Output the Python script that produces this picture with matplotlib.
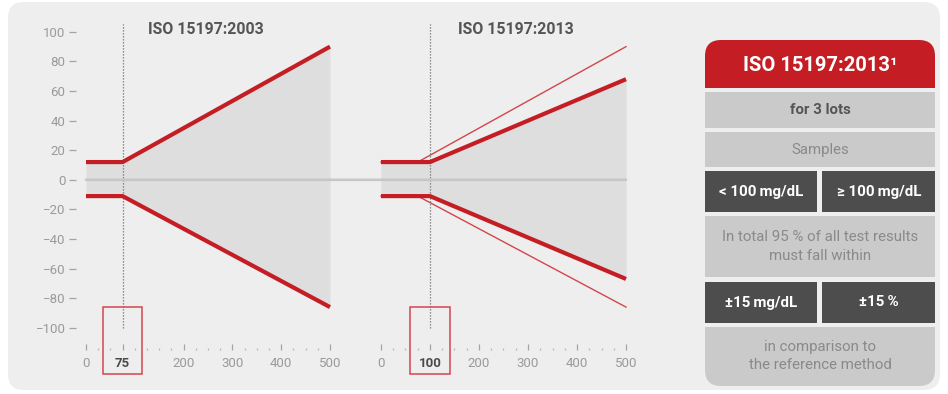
import matplotlib.pyplot as plt
from matplotlib.patches import Rectangle, FancyBboxPatch, ConnectionPatch

plt.rcParams['font.family'] = ['Roboto', 'DejaVu Sans']

# accuracy limits (deviation from reference, mg/dL or %) over glucose concentration
glucose_2003 = [0, 75, 500]
upper_2003 = [12, 12, 90]
lower_2003 = [-11, -11, -86]
cutoff_2003 = 75

glucose_2013 = [0, 100, 500]
upper_2013 = [12, 12, 68]
lower_2013 = [-11, -11, -67]
cutoff_2013 = 100

y_ticks = [-100, -80, -60, -40, -20, 0, 20, 40, 60, 80, 100]
x_ticks_2003 = [0, 75, 200, 300, 400, 500]
x_ticks_2013 = [0, 100, 200, 300, 400, 500]
minor_step = 25

titles = ['ISO 15197:2003', 'ISO 15197:2013']

table_header = 'ISO 15197:2013\u00b9'
table_lots = 'for 3 lots'
table_samples = 'Samples'
table_ranges = ['< 100\u2009mg/dL', '\u2265 100\u2009mg/dL']
table_rule = 'In total 95 % of all test results\nmust fall within'
table_limits = ['\u00b115\u2009mg/dL', '\u00b115\u2009%']
table_footer = 'in comparison to\nthe reference method'

RED = '#c41e24'
THIN_RED = '#d2464b'
SHADE = '#dedede'
PANEL = '#eeeeee'
LIGHT_CELL = '#cacaca'
DARK_CELL = '#4d4d4d'
TICK_GREY = '#a3a3a3'

W, H = 948, 394
fig = plt.figure(figsize=(W / 100, H / 100), dpi=100)
fig.patch.set_facecolor('white')

# background canvas in pixel units: rounded panel + spec table
bg = fig.add_axes([0, 0, 1, 1], zorder=-1)
bg.set_xlim(0, W)
bg.set_ylim(H, 0)
bg.axis('off')
bg.add_patch(FancyBboxPatch((8, 2), 932, 388, boxstyle='round,pad=0,rounding_size=16',
                            facecolor=PANEL, edgecolor='none'))


def px_axes(left, right, top=20, bottom=350):
    return fig.add_axes([left / W, (H - bottom) / H, (right - left) / W, (bottom - top) / H])


ax1 = px_axes(76, 336)
ax2 = px_axes(371, 631)
ax1.set_xlim(-20.5, 512.3)
ax2.set_xlim(-20.4, 510.2)


def draw_panel(ax, x, up, lo, cutoff, xticks, title, title_x):
    ax.set_facecolor('none')
    ax.set_ylim(-115, 108)
    for s in ax.spines.values():
        s.set_visible(False)
    ax.fill_between(x, lo, up, color=SHADE, lw=0, zorder=1)
    ax.plot(x, up, color=RED, lw=3.0, solid_capstyle='butt', zorder=4)
    ax.plot(x, lo, color=RED, lw=3.0, solid_capstyle='butt', zorder=4)
    ax.vlines(cutoff, -100, 105, color='#6e6e6e', lw=0.9, linestyles=(0, (1, 1.4)), zorder=3)

    # x axis: ticks pointing up, every 25 units
    ax.set_xticks(xticks)
    ax.set_xticks(range(0, 501, minor_step), minor=True)
    ax.tick_params(axis='x', which='major', direction='in', length=4, width=0.9,
                   color=TICK_GREY, pad=5, labelsize=9.5, labelcolor='#9a9a9a')
    ax.tick_params(axis='x', which='minor', direction='in', length=1.8, width=0.9,
                   color='#b5b5b5')
    for lab in ax.get_xticklabels():
        if lab.get_text() == str(cutoff):
            lab.set_fontweight('bold')
            lab.set_color('#4a4a4a')

    # red frame around the cut-off label
    ax.add_patch(Rectangle((cutoff - 40, -131), 80, 45, fill=False, edgecolor='#d2474f',
                           lw=1.1, clip_on=False, zorder=5))
    ax.text(title_x, 0.97, title, transform=ax.transAxes, fontsize=11.4, fontweight='bold',
            color='#555555', va='center', ha='left')


draw_panel(ax1, glucose_2003, upper_2003, lower_2003, cutoff_2003, x_ticks_2003, titles[0], 0.277)
# previous limits shown as thin lines behind the 2013 limits
ax2.plot(glucose_2003, upper_2003, color=THIN_RED, lw=1.0, zorder=2)
ax2.plot(glucose_2003, lower_2003, color=THIN_RED, lw=1.0, zorder=2)
draw_panel(ax2, glucose_2013, upper_2013, lower_2013, cutoff_2013, x_ticks_2013, titles[1], 0.335)

ax1.set_yticks(y_ticks)
ax1.tick_params(axis='y', direction='out', length=5, width=0.9, color=TICK_GREY,
                pad=2.5, labelsize=9.5, labelcolor='#9a9a9a')
ax2.tick_params(axis='y', left=False, labelleft=False)

# zero line running through both panels
zero = ConnectionPatch(xyA=(0, 0), coordsA=ax1.transData, xyB=(500, 0), coordsB=ax2.transData,
                       color='#c6c6c6', lw=1.8)
fig.add_artist(zero)

# ---- requirements table ----
tx0, tx1, tmid = 705, 935, 820
gap = 2.5

bg.add_patch(FancyBboxPatch((tx0, 40), tx1 - tx0, 48, boxstyle='round,pad=0,rounding_size=16',
                            facecolor=RED, edgecolor='none'))
bg.add_patch(Rectangle((tx0, 64), tx1 - tx0, 24, facecolor=RED, edgecolor='none'))
bg.text((tx0 + tx1) / 2, 65, table_header, ha='center', va='center', color='white',
        fontsize=14.5, fontweight='bold')


def full_row(top, bottom, text, color, weight='normal', size=10.8):
    bg.add_patch(Rectangle((tx0, top), tx1 - tx0, bottom - top, facecolor=LIGHT_CELL,
                           edgecolor='none'))
    bg.text((tx0 + tx1) / 2, (top + bottom) / 2, text, ha='center', va='center',
            color=color, fontsize=size, fontweight=weight, linespacing=1.45)


def pair_row(top, bottom, texts):
    for (a, b), t in zip([(tx0, tmid - gap), (tmid + gap, tx1)], texts):
        bg.add_patch(Rectangle((a, top), b - a, bottom - top, facecolor=DARK_CELL,
                               edgecolor='none'))
        bg.text((a + b) / 2, (top + bottom) / 2, t, ha='center', va='center',
                color='white', fontsize=10.8, fontweight='bold')


full_row(92, 128, table_lots, '#555555', weight='bold', size=10.8)
full_row(132, 167, table_samples, '#8a8a8a')
pair_row(171, 212, table_ranges)
full_row(216, 277, table_rule, '#8a8a8a')
pair_row(282, 323, table_limits)

bg.add_patch(FancyBboxPatch((tx0, 327), tx1 - tx0, 59, boxstyle='round,pad=0,rounding_size=16',
                            facecolor=LIGHT_CELL, edgecolor='none'))
bg.add_patch(Rectangle((tx0, 327), tx1 - tx0, 30, facecolor=LIGHT_CELL, edgecolor='none'))
bg.text((tx0 + tx1) / 2, 356, table_footer, ha='center', va='center', color='#8a8a8a',
        fontsize=10.8, linespacing=1.45)

fig.savefig('out.png', dpi=100)
